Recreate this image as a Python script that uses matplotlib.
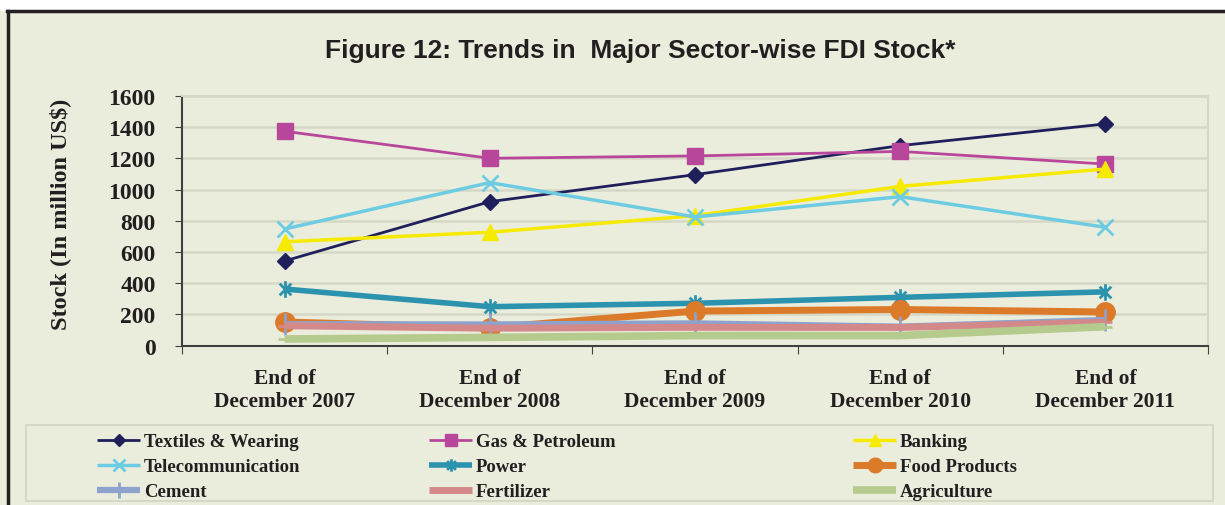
import numpy as np
import matplotlib.pyplot as plt
from matplotlib.path import Path
from matplotlib.patches import Rectangle
from matplotlib.lines import Line2D

years = ["End of\nDecember 2007", "End of\nDecember 2008", "End of\nDecember 2009",
         "End of\nDecember 2010", "End of\nDecember 2011"]

textiles = [543, 923, 1096, 1282, 1421]
gas = [1374, 1201, 1216, 1245, 1164]
banking = [666, 727, 833, 1021, 1132]
telecom = [748, 1045, 825, 955, 759]
power = [363, 250, 272, 310, 345]
food = [152, 115, 222, 232, 216]
cement = [138, 136, 143, 122, 165]
fertilizer = [128, 112, 118, 117, 150]
agriculture = [43, 53, 65, 65, 122]

bg = '#EBEDDC'
ink = '#231F20'
star = Path([(0, -1), (0, 1), (-0.7, -0.7), (0.7, 0.7), (-0.7, 0.7), (0.7, -0.7)],
            [Path.MOVETO, Path.LINETO] * 3)

fig = plt.figure(figsize=(12.25, 5.06), dpi=100, facecolor=bg)
ax = fig.add_axes([0.1486, 0.3148, 0.8375, 0.4935])
ax.set_facecolor(bg)

x = np.arange(len(years))
series = [
    ("Textiles & Wearing", textiles, dict(color='#1F1F5C', marker='D', ms=8, lw=2)),
    ("Gas & Petroleum", gas, dict(color='#B8469B', marker='s', ms=11, lw=2)),
    ("Banking", banking, dict(color='#F5EA00', marker='^', ms=11, lw=2.5)),
    ("Telecommunication", telecom, dict(color='#6DCBE2', marker='x', ms=11, mew=2, lw=2.5)),
    ("Power", power, dict(color='#2C93AF', marker=star, ms=12, mew=2, lw=4)),
    ("Food Products", food, dict(color='#DB7B2A', marker='o', ms=14, lw=5)),
    ("Cement", cement, dict(color='#8EA2CE', marker='|', ms=16, mew=2, lw=4.5)),
    ("Fertilizer", fertilizer, dict(color='#D3898A', marker='_', ms=10, mew=2, lw=5)),
    ("Agriculture", agriculture, dict(color='#B5CA8D', marker='_', ms=10, mew=2, lw=5.5)),
]
handles = {}
for name, vals, style in series:
    h, = ax.plot(x, vals, label=name, solid_capstyle='butt', **style)
    handles[name] = h

ax.set_ylim(0, 1600)
ax.set_yticks(np.arange(0, 1601, 200))
ax.set_xlim(-0.5, 4.5)
ax.set_xticks(np.arange(-0.5, 4.6, 1.0))
ax.set_xticklabels([])
ax.set_xticks(x, minor=True)
ax.set_xticklabels(years, minor=True, fontfamily='Liberation Serif',
                   fontweight='bold', fontsize=15.5, color=ink, linespacing=1.2)
ax.tick_params(axis='x', which='minor', length=0, pad=16)
ax.tick_params(axis='x', which='major', length=6, color='#404040', direction='out')
ax.tick_params(axis='y', length=5, color='#404040', pad=14, labelsize=17)
for lab in ax.get_yticklabels():
    lab.set_fontfamily('Liberation Serif')
    lab.set_fontweight('bold')
    lab.set_color(ink)
ax.grid(axis='y', color='#D5D8C6', lw=1.8)
ax.set_axisbelow(True)
for s in ['top', 'right']:
    ax.spines[s].set_color('#D5D8C6')
    ax.spines[s].set_linewidth(1.5)
for s in ['left', 'bottom']:
    ax.spines[s].set_color('#404040')
    ax.spines[s].set_linewidth(1.5)

ax.set_ylabel("Stock (In million US$)", fontfamily='Liberation Serif',
              fontweight='bold', fontsize=17.5, color=ink)
ax.yaxis.set_label_coords(-0.108, 0.53)

fig.text(0.523, 0.9, "Figure 12: Trends in  Major Sector-wise FDI Stock*",
         ha='center', va='center', fontfamily='Liberation Sans', fontweight='bold',
         fontsize=19, color=ink)

# legend box and frame lines
fig.add_artist(Rectangle((26 / 1225, 4 / 506), 1187 / 1225, 76 / 506,
                         transform=fig.transFigure, fill=False,
                         edgecolor='#D5D8C6', lw=1.5))
fig.add_artist(Rectangle((0, 1 - 12 / 506), 1, 12 / 506, transform=fig.transFigure,
                         facecolor='white', edgecolor='none'))
fig.add_artist(Line2D([7 / 1225, 1], [1 - 12 / 506] * 2, transform=fig.transFigure,
                      color=ink, lw=2.5))
fig.add_artist(Line2D([8 / 1225] * 2, [0, 1 - 12 / 506], transform=fig.transFigure,
                      color=ink, lw=2.5))

# one legend per column
columns = [
    (84, ["Textiles & Wearing", "Telecommunication", "Cement"]),
    (416, ["Gas & Petroleum", "Power", "Fertilizer"]),
    (840, ["Banking", "Food Products", "Agriculture"]),
]
for left, names in columns:
    leg = fig.legend([handles[n] for n in names], names, loc='upper left',
                     bbox_to_anchor=(left / 1225, 1 - 421 / 506), frameon=False,
                     prop={'family': 'Liberation Serif', 'weight': 'bold', 'size': 13.5},
                     handlelength=2.3, handletextpad=0.2, labelspacing=0.42,
                     borderpad=0.2, markerscale=0.75)
    for t in leg.get_texts():
        t.set_color(ink)

fig.savefig("out.png", dpi=100, facecolor=bg)
